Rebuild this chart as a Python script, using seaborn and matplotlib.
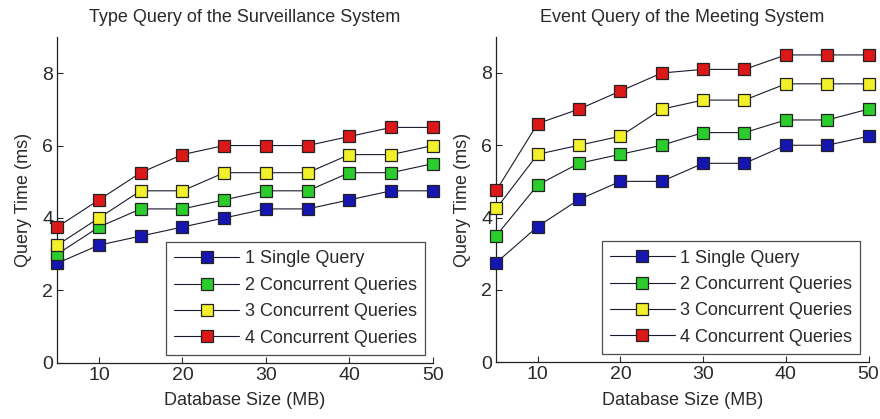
import matplotlib
matplotlib.use("Agg")
import matplotlib.pyplot as plt
import seaborn as sns

# --- data ---
sizes = [5, 10, 15, 20, 25, 30, 35, 40, 45, 50]
series_names = ["1 Single Query", "2 Concurrent Queries",
                "3 Concurrent Queries", "4 Concurrent Queries"]
face_colors = ["#1515b0", "#2ccc2c", "#f2f02a", "#dc1818"]

surv_single = [2.75, 3.25, 3.5, 3.75, 4.0, 4.25, 4.25, 4.5, 4.75, 4.75]
surv_two = [3.0, 3.75, 4.25, 4.25, 4.5, 4.75, 4.75, 5.25, 5.25, 5.5]
surv_three = [3.25, 4.0, 4.75, 4.75, 5.25, 5.25, 5.25, 5.75, 5.75, 6.0]
surv_four = [3.75, 4.5, 5.25, 5.75, 6.0, 6.0, 6.0, 6.25, 6.5, 6.5]

meet_single = [2.75, 3.75, 4.5, 5.0, 5.0, 5.5, 5.5, 6.0, 6.0, 6.25]
meet_two = [3.5, 4.9, 5.5, 5.75, 6.0, 6.35, 6.35, 6.7, 6.7, 7.0]
meet_three = [4.25, 5.75, 6.0, 6.25, 7.0, 7.25, 7.25, 7.7, 7.7, 7.7]
meet_four = [4.75, 6.6, 7.0, 7.5, 8.0, 8.1, 8.1, 8.5, 8.5, 8.5]

panels = [
    ("Type Query of the Surveillance System", [surv_single, surv_two, surv_three, surv_four]),
    ("Event Query of the Meeting System", [meet_single, meet_two, meet_three, meet_four]),
]

sns.set_style("ticks")
plt.rcParams["font.family"] = ["Liberation Sans", "DejaVu Sans"]
plt.rcParams["text.color"] = "#2a2a2a"
plt.rcParams["axes.labelcolor"] = "#2a2a2a"

fig = plt.figure(figsize=(8.8, 4.19), dpi=100)
ax_positions = [[0.065, 0.134, 0.427, 0.778], [0.564, 0.136, 0.423, 0.776]]

for pos, (title, data) in zip(ax_positions, panels):
    ax = fig.add_axes(pos)
    for name, vals, fc in zip(series_names, data, face_colors):
        sns.lineplot(x=sizes, y=vals, ax=ax, color="#1a1a2e", linewidth=0.8,
                     marker="s", markersize=9, markerfacecolor=fc,
                     markeredgecolor="#222222", markeredgewidth=0.9,
                     label=name, clip_on=False, zorder=3)
    ax.set_xlim(5, 50)
    ax.set_ylim(0, 9)
    ax.set_xticks([10, 20, 30, 40, 50])
    ax.set_yticks([0, 2, 4, 6, 8])
    ax.tick_params(direction="in", length=4, labelsize=14, colors="#2a2a2a",
                   width=0.8, pad=3)
    ax.set_xlabel("Database Size (MB)", fontsize=13, labelpad=6)
    ax.set_ylabel("Query Time (ms)", fontsize=13, labelpad=7)
    ax.set_title(title, fontsize=13, pad=11)
    sns.despine(ax=ax)
    for side in ["left", "bottom"]:
        ax.spines[side].set_linewidth(0.9)
        ax.spines[side].set_color("#222222")
    leg = ax.legend(loc="lower right", fontsize=13, handlelength=3.6,
                    handletextpad=0.3, labelspacing=0.52, borderpad=0.45,
                    fancybox=False, frameon=True, borderaxespad=0.45)
    leg.get_frame().set_edgecolor("#222222")
    leg.get_frame().set_linewidth(0.9)
    leg.set_zorder(5)

fig.savefig("out.png", dpi=100)
